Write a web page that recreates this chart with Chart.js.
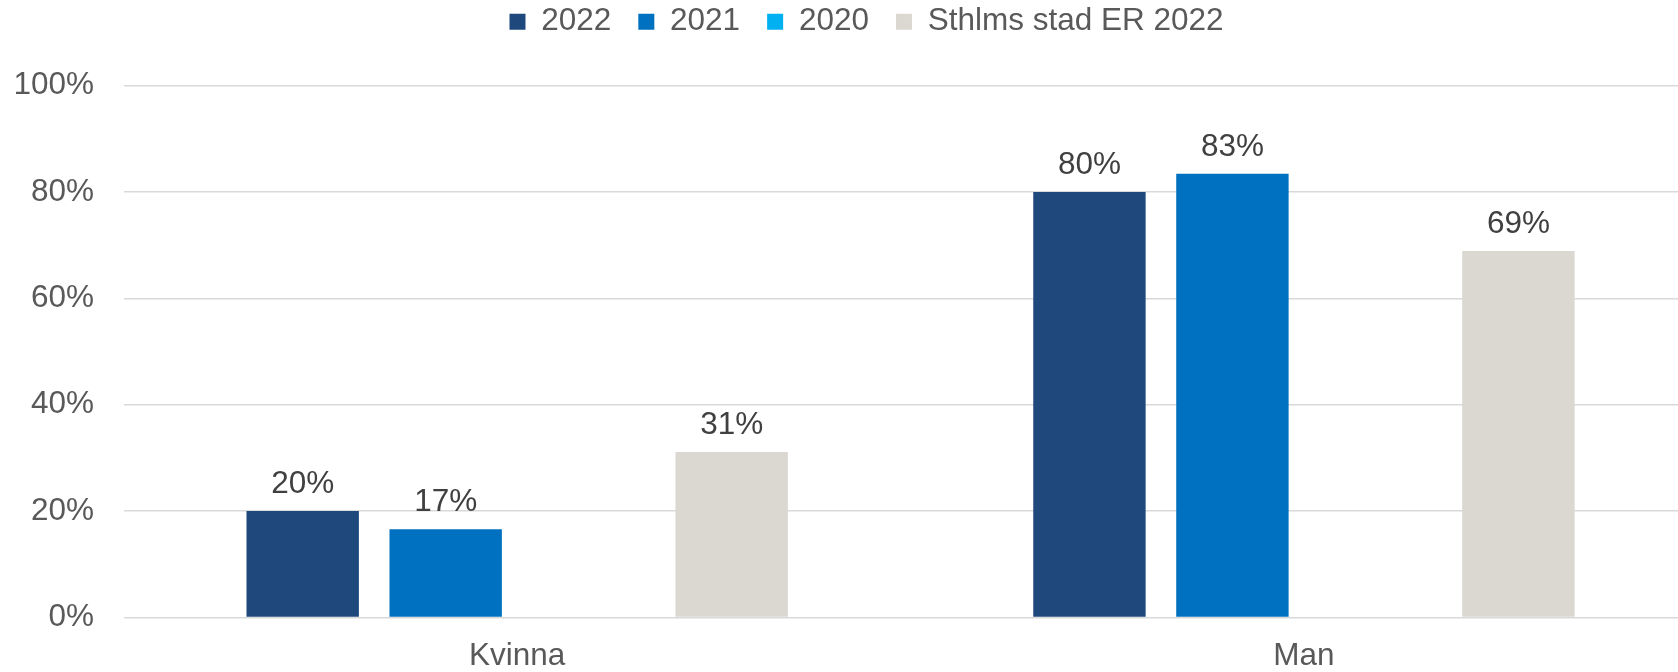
<!DOCTYPE html>
<html>
<head>
<meta charset="utf-8">
<script src="https://cdn.jsdelivr.net/npm/chart.js@4.4.1/dist/chart.umd.min.js"></script>
<style>
    html, body { margin: 0; padding: 0; background: #ffffff; overflow: hidden; }
    #wrap { width: 1734px; height: 672px; }
</style>
</head>
<body>
<div id="wrap"><canvas id="bar-chart" width="1734" height="672"></canvas></div>
<script>
// Chart data
var categories = ["Kvinna", "Man"];
var seriesNames = ["2022", "2021", "2020", "Sthlms stad ER 2022"];
var values2022 = [20, 80];
var values2021 = [16.6, 83.4];
var values2020 = [null, null];
var valuesSthlm = [31.1, 68.9];
var yTicks = [0, 20, 40, 60, 80, 100];

var fontFamily = '"Liberation Sans", Arial, sans-serif';
var fontSize = 31.5;

// push the plot down below the legend
var legendSpacing = {
    id: 'legendSpacing',
    beforeInit: function (chart) {
        var fitLegend = chart.legend.fit;
        chart.legend.fit = function () {
            fitLegend.bind(chart.legend)();
            this.height += 38;
        };
    },
    afterLayout: function (chart) {
        chart.legend.left += 10;
        chart.legend.right += 10;
    }
};

// value labels above the bars
var barValueLabels = {
    id: 'barValueLabels',
    afterDatasetsDraw: function (chart) {
        var ctx = chart.ctx;
        ctx.save();
        ctx.font = fontSize + 'px ' + fontFamily;
        ctx.fillStyle = '#404040';
        ctx.textAlign = 'center';
        ctx.textBaseline = 'alphabetic';
        chart.data.datasets.forEach(function (ds, i) {
            var meta = chart.getDatasetMeta(i);
            meta.data.forEach(function (bar, j) {
                var v = ds.data[j];
                if (v === null) return;
                ctx.fillText(Math.round(v) + '%', bar.x, bar.y - 18);
            });
        });
        ctx.restore();
    }
};

function barSet(label, data, color) {
    return {
        label: label,
        data: data,
        backgroundColor: color,
        borderWidth: 0,
        categoryPercentage: 0.727,
        barPercentage: 0.786
    };
}

var chartData = {
    labels: categories,
    datasets: [
        barSet(seriesNames[0], values2022, '#1f497d'),
        barSet(seriesNames[1], values2021, '#0070c0'),
        barSet(seriesNames[2], values2020, '#00b0f0'),
        barSet(seriesNames[3], valuesSthlm, '#dbd8d1')
    ]
};

var chartOptions = {
    responsive: false,
    animation: false,
    devicePixelRatio: 1,
    layout: {
        padding: { top: -21, left: 15.8, right: 36.7, bottom: 0 }
    },
    plugins: {
        legend: {
            position: 'top',
            labels: {
                boxWidth: 16,
                boxHeight: 16,
                padding: 27,
                color: '#595959',
                font: { family: fontFamily, size: fontSize }
            }
        },
        tooltip: { enabled: false }
    },
    scales: {
        x: {
            grid: { display: false },
            border: { display: false },
            afterFit: function (scale) { scale.height = 54.5; },
            ticks: {
                color: '#595959',
                padding: 12,
                maxRotation: 0,
                font: { family: fontFamily, size: fontSize }
            }
        },
        y: {
            min: 0,
            max: 100,
            afterBuildTicks: function (scale) {
                scale.ticks = yTicks.map(function (v) { return { value: v }; });
            },
            afterFit: function (scale) { scale.width = 108; },
            grid: { color: '#d9d9d9', lineWidth: 1.5, drawTicks: false },
            border: { display: false },
            ticks: {
                color: '#595959',
                padding: 29.8,
                font: { family: fontFamily, size: fontSize },
                callback: function (v) { return v + '%'; }
            }
        }
    }
};

var ctx = document.getElementById('bar-chart');
var barChart = new Chart(ctx, {
    type: 'bar',
    data: chartData,
    options: chartOptions,
    plugins: [legendSpacing, barValueLabels]
});
</script>
</body>
</html>
